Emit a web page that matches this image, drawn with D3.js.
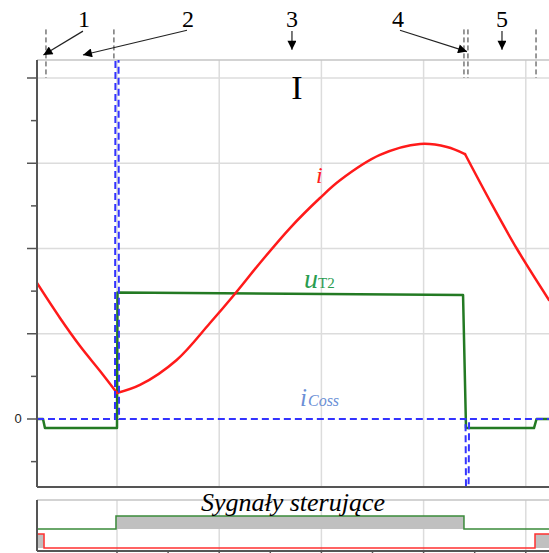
<!DOCTYPE html>
<html>
<head>
<meta charset="utf-8">
<script src="https://cdn.jsdelivr.net/npm/d3@7"></script>
<style>
body { margin: 0; background: #fff; }
svg { display: block; }
</style>
</head>
<body>
<svg id="mainSvg" width="549" height="553"></svg>
<script>
// current i (red): [t, value], three smooth pieces with kinks between them
var iPart1 = [[-0.783, 1.595], [-0.558, 1.185], [-0.362, 0.856], [-0.166, 0.563], [0, 0.305]];
var iPart2 = [[0, 0.305], [0.225, 0.399], [0.584, 0.692], [0.910, 1.126], [1.155, 1.470], [1.399, 1.830],
	[1.693, 2.240], [1.986, 2.592], [2.182, 2.800], [2.573, 3.097], [2.965, 3.226],
	[3.229, 3.191], [3.405, 3.108]];
var iPart3 = [[3.405, 3.108], [3.650, 2.557], [3.914, 1.994], [4.227, 1.396]];
// voltage uT2 (green)
var uData = [[-0.783, 0], [-0.724, 0], [-0.705, -0.106], [0, -0.106], [0.005, 1.484],
	[3.386, 1.455], [3.415, -0.106], [4.080, -0.106], [4.105, 0], [4.227, 0]];
// iCoss (blue, dashed)
var cData = [[-0.783, 0], [-0.02, 0], [-0.015, 4.3], [0.015, 4.3], [0.02, 0],
	[3.41, 0], [3.415, -0.85], [3.44, -0.85], [3.445, 0], [4.227, 0]];
// control signals: [start, end, state]
var gateT2 = [[-0.783, -0.01, 0], [-0.01, 3.395, 1], [3.395, 4.227, 0]];
var gateT1 = [[-0.783, -0.714, 1], [-0.714, 4.09, 0], [4.09, 4.227, 1]];
var yMajor = [0, 1, 2, 3, 4];
var yMinor = [-0.5, 0.5, 1.5, 2.5, 3.5];
var xGrid = [0, 1, 2, 3, 4];
var xTicksLow = [0, 0.5, 1, 1.5, 2, 2.5, 3, 3.5, 4];
// top annotations: label, label t, arrow from [t, v], arrow to [t, v]
var marks = [
	{label: "1", t: -0.322, from: [-0.333, 4.55], to: [-0.72, 4.27]},
	{label: "2", t: 0.695, from: [0.685, 4.56], to: [-0.333, 4.27]},
	{label: "3", t: 1.712, from: [1.712, 4.55], to: [1.712, 4.33]},
	{label: "4", t: 2.749, from: [2.769, 4.56], to: [3.425, 4.31]},
	{label: "5", t: 3.767, from: [3.767, 4.55], to: [3.767, 4.33]}
];
var dashMarks = [[-0.695, 4.57, 4.0], [-0.03, 4.57, 4.21], [3.395, 4.57, 4.0], [3.434, 4.57, 4.0], [4.1, 4.57, 4.0]];

var svg = d3.select("#mainSvg");
var x = d3.scaleLinear().domain([0, 4]).range([117, 525.8]);
var y = d3.scaleLinear().domain([0, 4]).range([419, 78]);
var pLeft = 37, pRight = 549, pTop = 60, pBottom = 487;
var ys = d3.scaleLinear().domain([0, 1]).range([551, 500]);

svg.append("defs").append("clipPath").attr("id", "plotClip").append("rect")
	.attr("x", pLeft).attr("y", pTop).attr("width", pRight - pLeft).attr("height", pBottom - pTop);
var mk = svg.select("defs").append("marker").attr("id", "arr").attr("viewBox", "0 0 10 10")
	.attr("refX", 10).attr("refY", 5).attr("markerWidth", 11).attr("markerHeight", 9)
	.attr("markerUnits", "userSpaceOnUse").attr("orient", "auto");
mk.append("path").attr("d", "M0,0L10,5L0,10Z").attr("fill", "#000");

// grid
svg.selectAll(".hgrid").data(yMajor.slice(1)).enter().append("line")
	.attr("x1", pLeft).attr("x2", pRight).attr("y1", function(d) { return y(d); }).attr("y2", function(d) { return y(d); })
	.attr("style", "stroke:#dcdcdc;stroke-width:1.5");
svg.selectAll(".vgrid").data(xGrid).enter().append("line")
	.attr("x1", function(d) { return x(d); }).attr("x2", function(d) { return x(d); })
	.attr("y1", pTop).attr("y2", pBottom).attr("style", "stroke:#dcdcdc;stroke-width:1.5");
svg.append("line").attr("x1", pLeft).attr("x2", pRight).attr("y1", pTop).attr("y2", pTop)
	.attr("style", "stroke:#c4c4c4;stroke-width:1.5");

// ticks
svg.selectAll(".maj").data(yMajor).enter().append("line")
	.attr("x1", pLeft - 10).attr("x2", pLeft).attr("y1", function(d) { return y(d); }).attr("y2", function(d) { return y(d); })
	.attr("style", "stroke:#555;stroke-width:1.5");
svg.selectAll(".min").data(yMinor).enter().append("line")
	.attr("x1", pLeft - 6).attr("x2", pLeft).attr("y1", function(d) { return y(d); }).attr("y2", function(d) { return y(d); })
	.attr("style", "stroke:#555;stroke-width:1.5");
svg.append("text").attr("x", 18).attr("y", y(0) + 4).attr("text-anchor", "middle")
	.attr("font-family", "Liberation Sans, Arial").attr("font-size", "13px").attr("fill", "#222").text("0");

var line = d3.line().x(function(d) { return x(d[0]); }).y(function(d) { return y(d[1]); });
var smooth = d3.line().curve(d3.curveCatmullRom.alpha(0.5)).x(function(d) { return x(d[0]); }).y(function(d) { return y(d[1]); });
var plot = svg.append("g").attr("clip-path", "url(#plotClip)");
plot.append("path").attr("d", line(uData)).attr("fill", "none")
	.attr("style", "stroke:#237a23;stroke-width:2.5;stroke-linejoin:round");
[iPart1, iPart2, iPart3].forEach(function(p) {
	plot.append("path").attr("d", smooth(p)).attr("fill", "none")
		.attr("style", "stroke:#ff1a1a;stroke-width:2.5;stroke-linejoin:round;stroke-linecap:round");
});
plot.append("path").attr("d", line(cData)).attr("fill", "none")
	.attr("style", "stroke:#3333ff;stroke-width:2;stroke-dasharray:7,4");

// axes lines
svg.append("line").attr("x1", pLeft).attr("x2", pLeft).attr("y1", pTop).attr("y2", pBottom).attr("style", "stroke:#555;stroke-width:2");
svg.append("line").attr("x1", pLeft).attr("x2", pRight).attr("y1", pBottom).attr("y2", pBottom).attr("style", "stroke:#555;stroke-width:2");

// labels
var serif = "Liberation Serif, Times New Roman, serif";
svg.append("text").attr("x", 297).attr("y", 99).attr("text-anchor", "middle").attr("font-family", serif)
	.attr("font-size", "34px").attr("fill", "#000").text("I");
svg.append("text").attr("x", 316).attr("y", 183).attr("font-family", serif).attr("font-style", "italic")
	.attr("font-size", "24px").attr("fill", "#ff2020").text("i");
var uT = svg.append("text").attr("x", 304).attr("y", 288).attr("font-family", serif).attr("fill", "#2a9d50");
uT.append("tspan").attr("font-style", "italic").attr("font-size", "28px").text("u");
uT.append("tspan").attr("font-size", "15px").text("T2");
var cT = svg.append("text").attr("x", 300).attr("y", 406).attr("font-family", serif).attr("fill", "#6b8fd6");
cT.append("tspan").attr("font-style", "italic").attr("font-size", "25px").text("i");
cT.append("tspan").attr("font-style", "italic").attr("font-size", "16px").attr("dx", 1).text("Coss");

// annotations
svg.selectAll(".dm").data(dashMarks).enter().append("line")
	.attr("x1", function(d) { return x(d[0]); }).attr("x2", function(d) { return x(d[0]); })
	.attr("y1", function(d) { return y(d[1]); }).attr("y2", function(d) { return y(d[2]); })
	.attr("style", "stroke:#333;stroke-width:1;stroke-dasharray:5,3");
svg.selectAll(".ml").data(marks).enter().append("text")
	.attr("x", function(d) { return x(d.t); }).attr("y", 27).attr("text-anchor", "middle")
	.attr("font-family", serif).attr("font-size", "24px").attr("fill", "#000").text(function(d) { return d.label; });
svg.selectAll(".ma").data(marks).enter().append("line")
	.attr("x1", function(d) { return x(d.from[0]); }).attr("y1", function(d) { return y(d.from[1]); })
	.attr("x2", function(d) { return x(d.to[0]); }).attr("y2", function(d) { return y(d.to[1]); })
	.attr("style", "stroke:#222;stroke-width:1.2").attr("marker-end", "url(#arr)");

// control signals panel
svg.selectAll(".lgrid").data(xGrid).enter().append("line")
	.attr("x1", function(d) { return x(d); }).attr("x2", function(d) { return x(d); })
	.attr("y1", ys(1)).attr("y2", ys(0)).attr("style", "stroke:#dcdcdc;stroke-width:1.5");
svg.append("line").attr("x1", pLeft).attr("x2", pRight).attr("y1", ys(1)).attr("y2", ys(1)).attr("style", "stroke:#c4c4c4;stroke-width:1.5");
function drawGate(data, lo, hi, col)
{
	svg.selectAll(null).data(data.filter(function(d) { return d[2] == 1; })).enter().append("rect")
		.attr("x", function(d) { return x(d[0]); }).attr("width", function(d) { return x(d[1]) - x(d[0]); })
		.attr("y", ys(hi)).attr("height", ys(lo) - ys(hi)).attr("fill", "#c0c0c0");
	var pts = [];
	data.forEach(function(d) {
		pts.push([d[0], d[2] ? hi : lo]);
		pts.push([d[1], d[2] ? hi : lo]);
	});
	svg.append("path").attr("d", d3.line().x(function(d) { return x(d[0]); }).y(function(d) { return ys(d[1]); })(pts))
		.attr("fill", "none").attr("style", "stroke:" + col + ";stroke-width:1.5");
}
drawGate(gateT2, 0.431, 0.686, "#3a8a3a");
drawGate(gateT1, 0.059, 0.333, "#ff3030");
svg.append("text").attr("x", 293).attr("y", 511).attr("text-anchor", "middle").attr("font-family", serif)
	.attr("font-style", "italic").attr("font-size", "26px").attr("fill", "#000").text("Sygnały sterujące");
svg.append("line").attr("x1", pLeft).attr("x2", pLeft).attr("y1", ys(1)).attr("y2", ys(0)).attr("style", "stroke:#555;stroke-width:2");
svg.append("line").attr("x1", pLeft).attr("x2", pRight).attr("y1", ys(0)).attr("y2", ys(0)).attr("style", "stroke:#555;stroke-width:2");
svg.selectAll(".lt").data(xTicksLow).enter().append("line")
	.attr("x1", function(d) { return x(d); }).attr("x2", function(d) { return x(d); })
	.attr("y1", ys(0)).attr("y2", ys(0) + 6).attr("style", "stroke:#555;stroke-width:1.5");
</script>
</body>
</html>
